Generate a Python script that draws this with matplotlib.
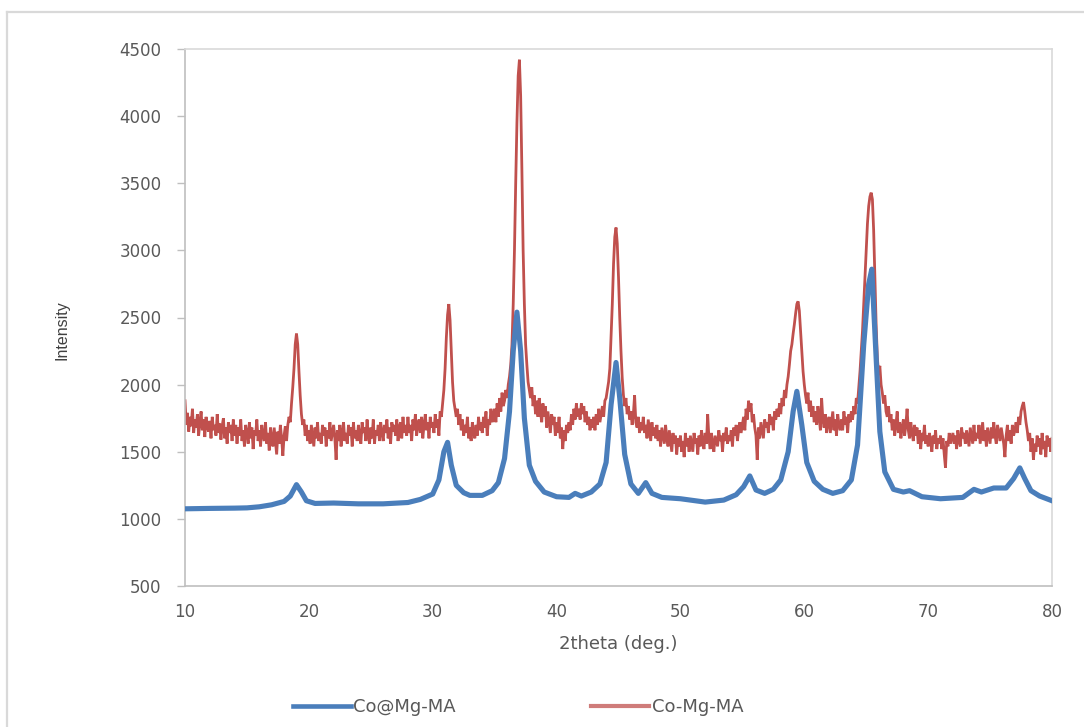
import matplotlib
matplotlib.use("Agg")
import matplotlib.pyplot as plt
from matplotlib.lines import Line2D

# ---------------- data ----------------
# Co@Mg-MA (blue) : (2theta, intensity) pairs
blue_x = [10, 12, 14, 15, 16, 17, 18, 18.5, 19.0, 19.4, 19.8, 20.5, 22, 24, 26, 28, 29, 30,
          30.5, 30.9, 31.2, 31.5, 31.9, 32.5, 33, 34, 34.8, 35.3, 35.8, 36.2, 36.5, 36.8,
          37.1, 37.4, 37.8, 38.3, 39, 40, 41, 41.5, 42, 42.8, 43.5, 44, 44.4, 44.8, 45.1,
          45.5, 46, 46.6, 47.2, 47.7, 48.5, 50, 52, 53.5, 54.5, 55.1, 55.6, 56.1, 56.8,
          57.5, 58.1, 58.7, 59.1, 59.4, 59.8, 60.2, 60.8, 61.5, 62.3, 63.1, 63.8, 64.3,
          64.8, 65.2, 65.45, 65.8, 66.1, 66.5, 67.2, 68, 68.5, 69.5, 71, 72.8, 73.7, 74.3,
          75.3, 76.3, 76.9, 77.4, 77.8, 78.3, 79, 80]
blue_y = [1075, 1078, 1080, 1082, 1090, 1105, 1130, 1170, 1255, 1200, 1135, 1115, 1118, 1112,
          1112, 1122, 1145, 1185, 1290, 1500, 1570, 1400, 1250, 1195, 1175, 1175, 1210,
          1270, 1450, 1800, 2250, 2540, 2250, 1750, 1400, 1280, 1200, 1165, 1160, 1190,
          1170, 1200, 1260, 1420, 1850, 2165, 1900, 1480, 1260, 1190, 1270, 1190, 1160,
          1150, 1125, 1140, 1180, 1240, 1320, 1215, 1190, 1220, 1290, 1500, 1800, 1950,
          1700, 1420, 1280, 1220, 1190, 1210, 1290, 1550, 2300, 2750, 2860, 2200, 1650,
          1350, 1220, 1200, 1210, 1165, 1150, 1160, 1220, 1200, 1230, 1230, 1300, 1380,
          1300, 1210, 1170, 1135]

# Co-Mg-MA (red): readings every 0.1 deg, one row per whole degree (x.0 ... x.9)
red_start = 10.0
red_step = 0.1
red_rows = [
    [1880, 1700, 1790, 1650, 1760, 1690, 1820, 1640, 1740, 1680],  # 10
    [1780, 1620, 1720, 1800, 1660, 1740, 1610, 1760, 1690, 1650],  # 11
    [1730, 1600, 1760, 1660, 1700, 1620, 1780, 1640, 1710, 1590],  # 12
    [1690, 1750, 1600, 1680, 1560, 1720, 1640, 1700, 1580, 1740],  # 13
    [1620, 1700, 1560, 1680, 1620, 1740, 1580, 1660, 1540, 1700],  # 14
    [1640, 1560, 1720, 1600, 1680, 1520, 1660, 1620, 1740, 1580],  # 15
    [1660, 1540, 1700, 1620, 1580, 1720, 1560, 1640, 1510, 1680],  # 16
    [1600, 1540, 1680, 1580, 1480, 1650, 1560, 1700, 1600, 1470],  # 17
    [1620, 1690, 1580, 1700, 1760, 1720, 1860, 1980, 2120, 2300],  # 18
    [2380, 2300, 2100, 1920, 1780, 1700, 1740, 1620, 1700, 1580],  # 19
    [1660, 1560, 1700, 1620, 1540, 1680, 1600, 1720, 1580, 1640],  # 20
    [1560, 1700, 1620, 1680, 1540, 1660, 1600, 1720, 1580, 1640],  # 21
    [1700, 1600, 1440, 1660, 1580, 1700, 1540, 1640, 1720, 1580],  # 22
    [1640, 1560, 1700, 1620, 1680, 1540, 1720, 1600, 1660, 1580],  # 23
    [1700, 1620, 1560, 1720, 1640, 1680, 1580, 1740, 1620, 1560],  # 24
    [1680, 1600, 1740, 1560, 1660, 1620, 1700, 1580, 1720, 1640],  # 25
    [1580, 1700, 1640, 1740, 1600, 1680, 1560, 1720, 1650, 1700],  # 26
    [1620, 1740, 1580, 1680, 1720, 1600, 1760, 1640, 1700, 1620],  # 27
    [1760, 1640, 1700, 1580, 1740, 1660, 1780, 1620, 1700, 1740],  # 28
    [1640, 1760, 1600, 1700, 1780, 1660, 1720, 1600, 1760, 1680],  # 29
    [1720, 1640, 1780, 1680, 1740, 1620, 1800, 1760, 1860, 1960],  # 30
    [2120, 2350, 2520, 2600, 2480, 2250, 2020, 1880, 1820, 1760],  # 31
    [1820, 1700, 1780, 1660, 1740, 1620, 1700, 1640, 1760, 1600],  # 32
    [1680, 1580, 1720, 1640, 1600, 1700, 1620, 1760, 1660, 1720],  # 33
    [1640, 1760, 1680, 1800, 1620, 1740, 1700, 1820, 1720, 1780],  # 34
    [1820, 1720, 1860, 1760, 1900, 1800, 1940, 1840, 1880, 1960],  # 35
    [1900, 2000, 2060, 2150, 2300, 2600, 3000, 3500, 3950, 4300],  # 36
    [4420, 4150, 3600, 3000, 2600, 2300, 2150, 2020, 1960, 1900],  # 37
    [1980, 1840, 1920, 1780, 1880, 1760, 1900, 1800, 1720, 1860],  # 38
    [1760, 1840, 1680, 1800, 1720, 1640, 1780, 1700, 1760, 1620],  # 39
    [1720, 1640, 1760, 1600, 1680, 1520, 1660, 1580, 1700, 1640],  # 40
    [1720, 1660, 1780, 1700, 1820, 1740, 1860, 1760, 1820, 1740],  # 41
    [1860, 1780, 1840, 1720, 1800, 1700, 1760, 1660, 1740, 1680],  # 42
    [1760, 1660, 1780, 1700, 1820, 1720, 1780, 1840, 1760, 1880],  # 43
    [1900, 1960, 2020, 2120, 2350, 2600, 2900, 3100, 3170, 3050],  # 44
    [2800, 2500, 2250, 2050, 1920, 1840, 1900, 1780, 1840, 1740],  # 45
    [1800, 1700, 1780, 1920, 1720, 1680, 1760, 1640, 1720, 1660],  # 46
    [1760, 1640, 1700, 1600, 1740, 1660, 1580, 1720, 1620, 1680],  # 47
    [1600, 1700, 1580, 1660, 1540, 1680, 1620, 1560, 1700, 1600],  # 48
    [1540, 1660, 1580, 1500, 1640, 1560, 1620, 1480, 1600, 1540],  # 49
    [1620, 1500, 1580, 1460, 1640, 1540, 1600, 1500, 1620, 1560],  # 50
    [1500, 1640, 1560, 1600, 1480, 1620, 1540, 1660, 1580, 1520],  # 51
    [1640, 1560, 1780, 1600, 1520, 1640, 1560, 1500, 1620, 1580],  # 52
    [1540, 1660, 1580, 1620, 1500, 1640, 1580, 1680, 1560, 1620],  # 53
    [1580, 1660, 1540, 1680, 1620, 1700, 1580, 1660, 1720, 1640],  # 54
    [1700, 1760, 1660, 1820, 1740, 1880, 1800, 1860, 1720, 1780],  # 55
    [1680, 1620, 1440, 1680, 1600, 1720, 1660, 1600, 1740, 1680],  # 56
    [1720, 1640, 1780, 1700, 1760, 1660, 1800, 1740, 1820, 1760],  # 57
    [1860, 1780, 1900, 1840, 1960, 1900, 2000, 2060, 2150, 2250],  # 58
    [2300, 2380, 2450, 2530, 2600, 2620, 2550, 2400, 2250, 2100],  # 59
    [2000, 1920, 1860, 1940, 1800, 1880, 1760, 1840, 1720, 1800],  # 60
    [1700, 1840, 1760, 1660, 1900, 1740, 1680, 1780, 1640, 1720],  # 61
    [1760, 1640, 1720, 1800, 1660, 1740, 1620, 1780, 1700, 1660],  # 62
    [1740, 1660, 1800, 1700, 1760, 1640, 1780, 1720, 1800, 1740],  # 63
    [1840, 1780, 1900, 1860, 1980, 2100, 2250, 2400, 2600, 2800],  # 64
    [3000, 3200, 3330, 3400, 3430, 3380, 3150, 2800, 2450, 2200],  # 65
    [2080, 2140, 2000, 1940, 1860, 1920, 1800, 1760, 1840, 1720],  # 66
    [1780, 1660, 1740, 1620, 1700, 1800, 1640, 1720, 1600, 1680],  # 67
    [1740, 1620, 1700, 1820, 1660, 1600, 1720, 1640, 1580, 1700],  # 68
    [1620, 1680, 1560, 1660, 1520, 1640, 1580, 1700, 1560, 1620],  # 69
    [1540, 1640, 1580, 1500, 1620, 1560, 1660, 1520, 1600, 1560],  # 70
    [1620, 1520, 1600, 1480, 1380, 1580, 1540, 1640, 1560, 1600],  # 71
    [1640, 1560, 1620, 1520, 1660, 1580, 1540, 1680, 1600, 1640],  # 72
    [1560, 1660, 1600, 1540, 1680, 1620, 1560, 1700, 1580, 1640],  # 73
    [1600, 1700, 1560, 1640, 1720, 1580, 1660, 1540, 1680, 1620],  # 74
    [1560, 1680, 1600, 1720, 1620, 1560, 1700, 1640, 1580, 1680],  # 75
    [1620, 1560, 1460, 1620, 1700, 1580, 1660, 1560, 1700, 1620],  # 76
    [1660, 1720, 1640, 1760, 1700, 1800, 1840, 1870, 1800, 1720],  # 77
    [1660, 1580, 1640, 1500, 1600, 1440, 1560, 1500, 1620, 1540],  # 78
    [1600, 1480, 1640, 1520, 1580, 1460, 1620, 1540, 1600, 1500],  # 79
    [1600],                                                        # 80
]

series_names = ["Co@Mg-MA", "Co-Mg-MA"]
x_ticks = [10, 20, 30, 40, 50, 60, 70, 80]
y_ticks = [500, 1000, 1500, 2000, 2500, 3000, 3500, 4000, 4500]
x_label = "2theta (deg.)"
y_label = "Intensity"

# ---------------- build the red x grid ----------------
red_y = [v for row in red_rows for v in row]
red_x = [round(red_start + i * red_step, 1) for i in range(len(red_y))]

# ---------------- figure ----------------
blue_c = "#4A7EBB"
red_c = "#C0504D"
grey_txt = "#595959"

fig = plt.figure(figsize=(10.84, 7.27), dpi=100)
fig.patch.set_facecolor("white")

# outer chart frame (light grey)
fig.add_artist(Line2D([7 / 1084, 7 / 1084], [0, 1 - 12 / 727], transform=fig.transFigure,
                      color="#d9d9d9", lw=1.6))
fig.add_artist(Line2D([7 / 1084, 1], [1 - 12 / 727, 1 - 12 / 727], transform=fig.transFigure,
                      color="#d9d9d9", lw=1.6))

ax = fig.add_axes([185 / 1084, 1 - 586 / 727, (1052 - 185) / 1084, (586 - 49) / 727])
ax.plot(red_x, red_y, color=red_c, lw=2.0, solid_joinstyle="miter", zorder=2)
ax.plot(blue_x, blue_y, color=blue_c, lw=3.7, solid_joinstyle="round", zorder=3)

ax.set_xlim(10, 80)
ax.set_ylim(500, 4500)
ax.set_xticks(x_ticks)
ax.set_yticks(y_ticks)

for s in ["top", "right"]:
    ax.spines[s].set_color("#d9d9d9")
    ax.spines[s].set_linewidth(1.2)
for s in ["left", "bottom"]:
    ax.spines[s].set_color("#bfbfbf")
    ax.spines[s].set_linewidth(1.2)

ax.tick_params(axis="y", direction="out", length=6, width=1, color="#bfbfbf",
               labelsize=12, labelcolor=grey_txt, pad=11)
ax.tick_params(axis="x", direction="out", length=0, labelsize=12,
               labelcolor=grey_txt, pad=12)

ax.set_xlabel(x_label, fontsize=13, color=grey_txt, labelpad=10)
fig.text(62 / 1084, 1 - 330 / 727, y_label, rotation=90, ha="center", va="center",
         fontsize=11.5, color="#404040",
         family=["Liberation Sans Narrow", "Liberation Sans", "DejaVu Sans"])

handles = [Line2D([], [], color=blue_c, lw=3.3), Line2D([], [], color=red_c, lw=3.0, alpha=0.75)]
fig.legend(handles, series_names, loc="center", bbox_to_anchor=(0.478, 1 - 707 / 727),
           ncol=2, frameon=False, fontsize=13, labelcolor=grey_txt,
           handlelength=3.2, handletextpad=0.15, columnspacing=7.5)

fig.savefig("out.png", dpi=100, facecolor="white")
